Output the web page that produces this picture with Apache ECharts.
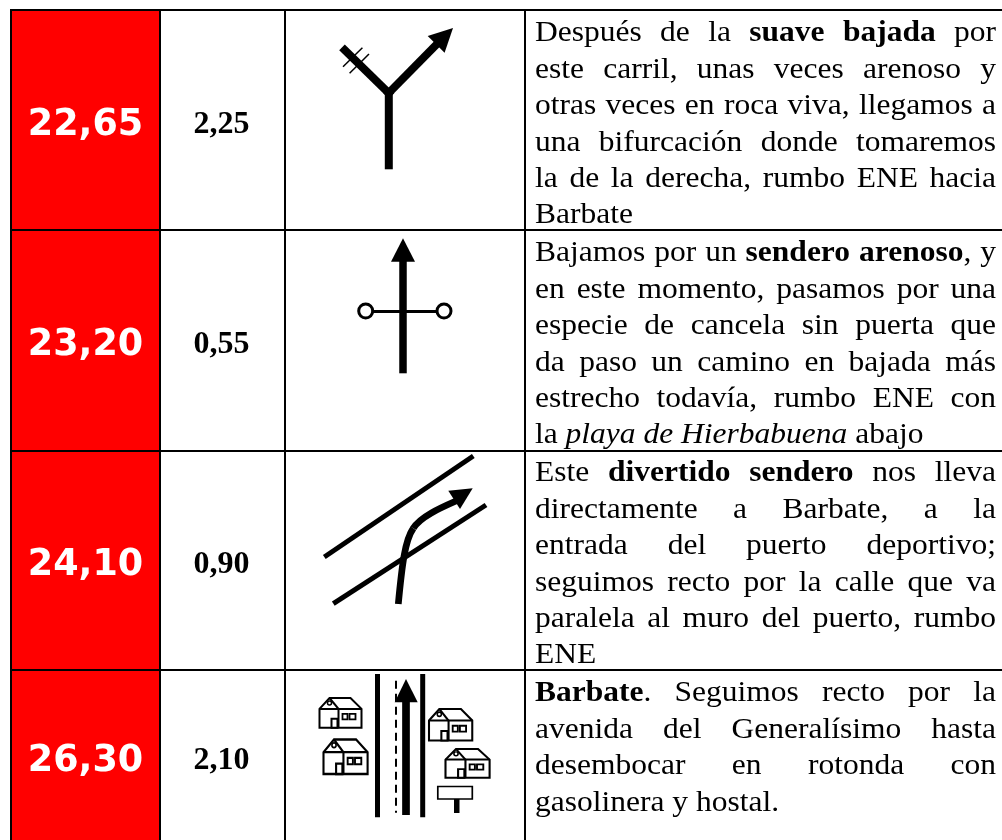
<!DOCTYPE html>
<html>
<head>
<meta charset="utf-8">
<script src="https://cdn.jsdelivr.net/npm/echarts@6/dist/echarts.min.js"></script>
<style>
html, body { margin: 0; padding: 0; background: #fff; }
#main { width: 1002px; height: 840px; }
</style>
</head>
<body>
<div id="main"></div>
<script>
var kmTotal = ['22,65', '23,20', '24,10', '26,30'];
var kmParcial = ['2,25', '0,55', '0,90', '2,10'];
// ** negrita, __ cursiva
var descripcion = [
    ['Después de la **suave bajada** por', 'este carril, unas veces arenoso y', 'otras veces en roca viva, llegamos a', 'una bifurcación donde tomaremos', 'la de la derecha, rumbo ENE hacia', 'Barbate'],
    ['Bajamos por un **sendero arenoso**, y', 'en este momento, pasamos por una', 'especie de cancela sin puerta que', 'da paso un camino en bajada más', 'estrecho todavía, rumbo ENE con', 'la __playa de Hierbabuena__ abajo'],
    ['Este **divertido sendero** nos lleva', 'directamente a Barbate, a la', 'entrada del puerto deportivo;', 'seguimos recto por la calle que va', 'paralela al muro del puerto, rumbo', 'ENE'],
    ['**Barbate**. Seguimos recto por la', 'avenida del Generalísimo hasta', 'desembocar en rotonda con', 'gasolinera y hostal.']
];

var lineasH = [9, 229, 450, 669];
var lineasV = [10, 159, 284, 524];
var baseTexto = [33.5, 253.5, 473.5, 693.5];
var centroTexto = [126, 346, 566, 762];
var centroParcial = [125, 345, 565, 761];
var TEXT_LEFT = 535, TEXT_RIGHT = 996, LINE_H = 36.4;
var SIZE = 30, STRETCH = 1.05;

var ctx = document.createElement('canvas').getContext('2d');
function fontDe(tipo) {
    var pre = tipo === 'b' ? 'bold ' : tipo === 'i' ? 'italic ' : '';
    return pre + SIZE + 'px "Liberation Serif"';
}
function ancho(txt, tipo) {
    ctx.font = fontDe(tipo);
    return ctx.measureText(txt).width * STRETCH;
}
// parte la linea en palabras, cada palabra con sus trozos de estilo
function palabras(linea) {
    var res = [[]], tipo = 'r';
    linea.split(/(\*\*|__)/).forEach(function (t) {
        if (t === '**') { tipo = tipo === 'b' ? 'r' : 'b'; return; }
        if (t === '__') { tipo = tipo === 'i' ? 'r' : 'i'; return; }
        t.split(/( )/).forEach(function (p) {
            if (p === ' ') { res.push([]); }
            else if (p) { res[res.length - 1].push({txt: p, tipo: tipo}); }
        });
    });
    return res;
}
function textoLinea(linea, y, justificar) {
    var words = palabras(linea), hijos = [];
    var anchos = words.map(function (w) {
        return w.reduce(function (s, f) { return s + ancho(f.txt, f.tipo); }, 0);
    });
    var total = anchos.reduce(function (a, b) { return a + b; }, 0);
    var gap = justificar && words.length > 1 ? (TEXT_RIGHT - TEXT_LEFT - total) / (words.length - 1) : SIZE * 0.25 * STRETCH;
    var x = TEXT_LEFT;
    words.forEach(function (w, i) {
        var fx = x;
        w.forEach(function (f) {
            hijos.push({
                type: 'text', x: fx, y: y, scaleX: STRETCH,
                style: {text: f.txt, x: 0, y: 0, font: fontDe(f.tipo), fill: '#000', align: 'left', verticalAlign: 'middle'}
            });
            fx += ancho(f.txt, f.tipo);
        });
        x += anchos[i] + gap;
    });
    return hijos;
}

function seg(x1, y1, x2, y2, w) {
    return {type: 'line', shape: {x1: x1, y1: y1, x2: x2, y2: y2}, style: {stroke: '#000', lineWidth: w, fill: null}};
}
function poly(pts) {
    return {type: 'polygon', shape: {points: pts}, style: {fill: '#000'}};
}
function curva(x1, y1, c1x, c1y, c2x, c2y, x2, y2, w) {
    return {type: 'bezierCurve', shape: {x1: x1, y1: y1, cpx1: c1x, cpy1: c1y, cpx2: c2x, cpy2: c2y, x2: x2, y2: y2}, style: {stroke: '#000', lineWidth: w, fill: null}};
}
function caja(x, y, w, h, sw) {
    return {type: 'rect', shape: {x: x, y: y, width: w, height: h}, style: {stroke: '#000', lineWidth: sw, fill: '#fff'}};
}
function circulo(cx, cy, r, sw) {
    return {type: 'circle', shape: {cx: cx, cy: cy, r: r}, style: {stroke: '#000', lineWidth: sw, fill: '#fff'}};
}

// casita, unos 42x30 en origen
function casa(x, y, sx, sy) {
    return {
        type: 'group', x: x, y: y, scaleX: sx, scaleY: sy,
        children: [
            {type: 'polygon', shape: {points: [[0, 11], [10, 0], [31, 0], [42, 11], [42, 30], [0, 30]]}, style: {stroke: '#000', lineWidth: 2, fill: '#fff'}},
            seg(10, 0, 19, 11, 2), seg(0, 11, 42, 11, 2), seg(19, 11, 19, 30, 2),
            caja(12, 21, 6, 9, 2),
            caja(23, 16, 5, 5.5, 1.8), caja(30, 16, 6, 5.5, 1.8),
            circulo(10, 5, 2, 1.5)
        ]
    };
}

var iconos = [
    function () {
        return [
            seg(388.8, 169.3, 388.8, 90, 8),
            seg(391.6, 95.8, 342, 47.3, 8),
            seg(386, 95.8, 437, 44, 8),
            poly([[453, 28], [427.7, 36], [444.6, 52.7]]),
            seg(362.4, 47.7, 343, 66.7, 1.5),
            seg(369, 54, 349.6, 73.3, 1.5)
        ];
    },
    function () {
        return [
            seg(369, 311.5, 440, 311.5, 3),
            seg(403, 373.3, 403, 258, 7.5),
            poly([[403, 238.3], [391, 261.7], [415, 261.7]]),
            circulo(365.7, 311, 7, 3),
            circulo(444, 311, 7, 3)
        ];
    },
    function () {
        return [
            seg(324.3, 557, 473.3, 456, 5),
            seg(333.3, 603.7, 486, 505, 5),
            curva(398.3, 604, 402, 565, 405, 540, 413.3, 528.3, 6.7),
            curva(413.3, 528.3, 420, 517, 440, 508, 456, 501, 6.7),
            poly([[472.7, 488.3], [448.3, 490.7], [460, 509]])
        ];
    },
    function () {
        var hijos = [
            casa(319.5, 698, 1, 0.99),
            casa(323.5, 739.5, 1.05, 1.15),
            casa(429, 709, 1.03, 1.05),
            casa(445.5, 749, 1.05, 0.96),
            seg(377.5, 674, 377.5, 817.3, 5),
            seg(422.7, 674, 422.7, 817.3, 5),
            seg(406, 815, 406, 700, 7.7),
            poly([[406, 679], [394.7, 702.3], [417.7, 702.3]])
        ];
        var dash = seg(396, 680.7, 396, 812.7, 2);
        dash.style.lineDash = [8, 5];
        hijos.push(dash);
        hijos.push(caja(437.8, 786.5, 34.5, 12.5, 1.7));
        hijos.push({type: 'rect', shape: {x: 454, y: 799, width: 5.5, height: 14}, style: {fill: '#000'}});
        return hijos;
    }
];

function renderFila(params, api) {
    var i = params.dataIndex;
    var top = lineasH[i];
    var bottom = i < lineasH.length - 1 ? lineasH[i + 1] : 840;
    var p0 = api.coord([lineasV[0], top]);
    var p1 = api.coord([lineasV[1], bottom]);
    var hijos = [
        {type: 'rect', shape: {x: p0[0], y: p0[1], width: p1[0] - p0[0], height: p1[1] - p0[1]}, style: {fill: '#ff0000'}},
        {
            type: 'text', x: 85.5, y: centroTexto[i],
            style: {text: kmTotal[api.value(0)], x: 0, y: 0, font: 'bold 36.5px "DejaVu Sans"', fill: '#fff', align: 'center', verticalAlign: 'middle'}
        },
        {
            type: 'text', x: 221.5, y: centroParcial[i],
            style: {text: kmParcial[api.value(0)], x: 0, y: 0, font: 'bold 32px "Liberation Serif"', fill: '#000', align: 'center', verticalAlign: 'middle'}
        }
    ];
    hijos = hijos.concat(iconos[i]());
    descripcion[i].forEach(function (linea, n) {
        var ultima = n === descripcion[i].length - 1;
        hijos = hijos.concat(textoLinea(linea, baseTexto[i] + n * LINE_H, !ultima));
    });
    return {type: 'group', children: hijos};
}

function renderRejilla() {
    var hijos = [];
    lineasH.forEach(function (y) {
        hijos.push({type: 'rect', shape: {x: lineasV[0], y: y, width: 1002 - lineasV[0], height: 2}, style: {fill: '#000'}});
    });
    lineasV.forEach(function (x) {
        hijos.push({type: 'rect', shape: {x: x, y: lineasH[0], width: 2, height: 840 - lineasH[0]}, style: {fill: '#000'}});
    });
    return {type: 'group', children: hijos};
}

var chart = echarts.init(document.getElementById('main'), null, {renderer: 'canvas'});
chart.setOption({
    animation: false,
    backgroundColor: '#fff',
    tooltip: {show: false},
    grid: {left: 0, right: 0, top: 0, bottom: 0},
    xAxis: {type: 'value', min: 0, max: 1002, show: false},
    yAxis: {type: 'value', min: 0, max: 840, inverse: true, show: false},
    series: [
        {type: 'custom', silent: true, clip: false, z: 2, renderItem: renderFila, encode: {x: 0, y: 0}, data: kmTotal.map(function (d, i) { return [i]; })},
        {type: 'custom', silent: true, clip: false, z: 3, renderItem: renderRejilla, encode: {x: 0, y: 0}, data: [[0]]}
    ]
});
</script>
</body>
</html>
